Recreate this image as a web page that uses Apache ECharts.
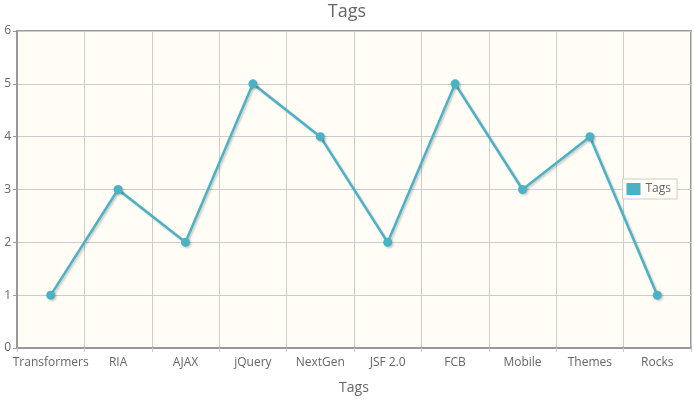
<!DOCTYPE html>
<html><head><meta charset="utf-8">
<script src="https://cdn.jsdelivr.net/npm/echarts@6/dist/echarts.min.js"></script>
<style>html,body{margin:0;padding:0;background:#fff}#c{width:694px;height:400px}</style>
</head><body><div id="c"></div>
<script>
const categories = ["Transformers","RIA","AJAX","jQuery","NextGen","JSF 2.0","FCB","Mobile","Themes","Rocks"];
const tagValues = [1,3,2,5,4,2,5,3,4,1];
const yTicks = [0,1,2,3,4,5,6];
const FONT = "'Open Sans', 'DejaVu Sans', sans-serif";
const chart = echarts.init(document.getElementById('c'));
chart.setOption({
  animation:false,
  title:{text:'Tags',left:'center',top:-2,textStyle:{color:'#666',fontSize:18,fontWeight:'normal',fontFamily:FONT}},
  legend:{show:true,right:17,top:179,orient:'vertical',itemWidth:14,itemHeight:12,itemGap:4,
    padding:[4,6,4,4],borderColor:'#ccc',borderWidth:1,backgroundColor:'#fffdf6',
    textStyle:{color:'#666',fontSize:12,fontFamily:FONT},
    data:[{name:'Tags',icon:'rect'}]},
  grid:{left:17,right:3,top:31,bottom:51,show:true,backgroundColor:'#fffdf6',borderColor:'#999',borderWidth:2},
  xAxis:{type:'category',data:categories,boundaryGap:true,name:'Tags',nameLocation:'middle',nameGap:33,
    nameTextStyle:{color:'#666',fontSize:14,fontFamily:FONT},
    axisLine:{lineStyle:{color:'#999',width:2}},
    axisTick:{show:true,length:4,lineStyle:{color:'#ccc'}},
    axisLabel:{color:'#666',fontSize:12,fontFamily:FONT,margin:9,interval:0},
    splitLine:{show:true,lineStyle:{color:'#ccc'}}},
  yAxis:{type:'value',min:0,max:6,interval:1,
    axisLine:{show:true,lineStyle:{color:'#999',width:2}},
    axisTick:{show:true,length:4,lineStyle:{color:'#999'}},
    axisLabel:{color:'#666',fontSize:12,fontFamily:FONT,margin:6,formatter:v=>yTicks.includes(v)?String(v):''},
    splitLine:{show:true,lineStyle:{color:'#ccc'}}},
  series:[{name:'Tags',type:'line',data:tagValues,symbol:'circle',symbolSize:9,
    lineStyle:{color:'#4bb2c5',width:2.5,shadowColor:'rgba(0,0,0,0.2)',shadowBlur:2,shadowOffsetX:1.5,shadowOffsetY:1.5},
    itemStyle:{color:'#4bb2c5',shadowColor:'rgba(0,0,0,0.2)',shadowBlur:2,shadowOffsetX:1.5,shadowOffsetY:1.5}}]
});
</script></body></html>
